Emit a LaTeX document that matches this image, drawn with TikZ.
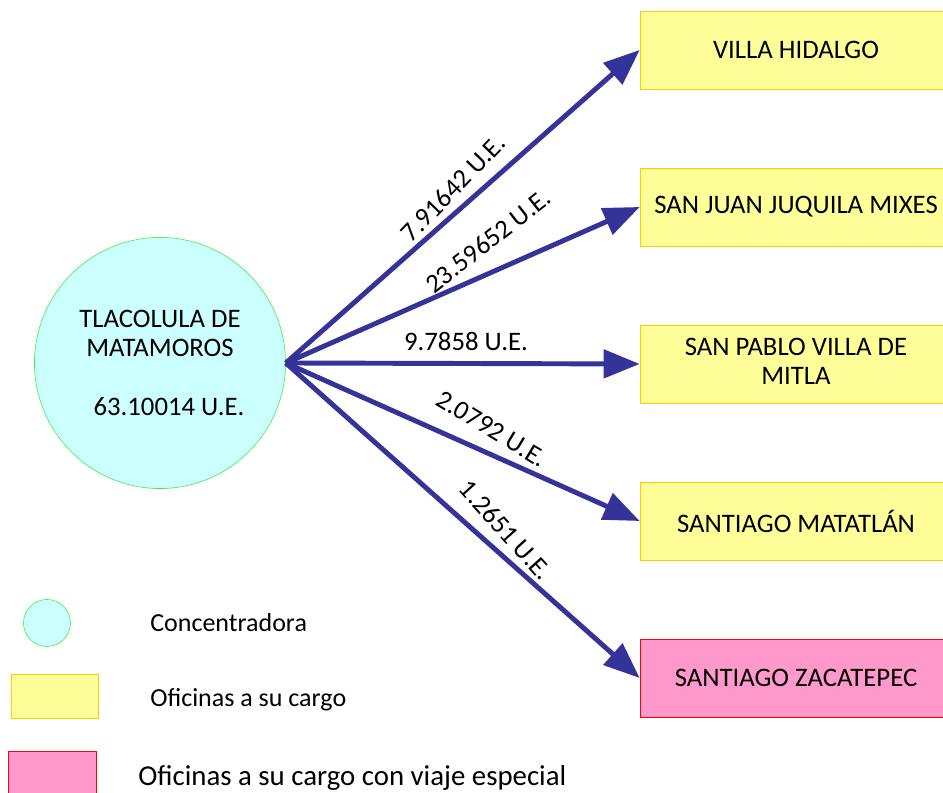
\documentclass[tikz,border=0pt]{standalone}
\usepackage{fontspec}
\setmainfont{Carlito}
\usetikzlibrary{arrows.meta}
\definecolor{hubfill}{HTML}{CCFFFF}
\definecolor{hubline}{HTML}{33EE33}
\definecolor{officefill}{HTML}{FFFF99}
\definecolor{officeline}{HTML}{FFCC00}
\definecolor{specialfill}{HTML}{FF99CC}
\definecolor{specialline}{HTML}{FF0000}
\definecolor{flowblue}{HTML}{333399}
\begin{document}
\begin{tikzpicture}[x=0.025cm, y=0.025cm,
    font=\fontsize{19}{21}\selectfont,
    hub/.style ={circle, draw=hubline, fill=hubfill, thin, inner sep=0pt, minimum size=6.275cm, align=center},
    office/.style ={rectangle, draw=officeline, fill=officefill, thin, minimum width=7.8cm, minimum height=1.95cm},
    special/.style ={office, draw=specialline, fill=specialfill},
    flow/.style ={line width=3.5pt, flowblue, -{Triangle[length=0.9cm, width=0.7cm]}},
    amount/.style ={inner sep=1pt},
    legend/.style ={anchor=west, inner sep=0pt, font=\fontsize{18.5}{21}\selectfont}]
   \useasboundingbox (0,0) rectangle (943,793);
   \clip (0,0) rectangle (943,793);
   \node[hub] (T) at (160,430) {TLACOLULA DE\\MATAMOROS\\[21pt]\hspace{0.45cm}63.10014 U.E.};
   \node[office] (VH) at (796,743) {VILLA HIDALGO};
   \node[office] (SJ) at (796,586) {SAN JUAN JUQUILA MIXES};
   \node[office] (SP) at (796,429) {\begin{tabular}{c}SAN PABLO VILLA DE\\MITLA\end{tabular}};
   \node[office] (SM) at (796,272) {SANTIAGO MATATLÁN};
   \node[special] (SZ) at (796,115) {SANTIAGO ZACATEPEC};
   \draw[flow] (T.east) -- (VH.west);
   \draw[flow] (T.east) -- (SJ.west);
   \draw[flow] (T.east) -- (SP.west);
   \draw[flow] (T.east) -- (SM.west);
   \draw[flow] (T.east) -- (SZ.west);
   \node[amount, rotate=46] (a1) at (453,605) {7.91642 U.E.};
   \node[amount, rotate=38] (a2) at (488,552) {23.59652 U.E.};
   \node[amount] (a3) at (466,452) {9.7858 U.E.};
   \node[amount, rotate=-31] (a4) at (492,364) {2.0792 U.E.};
   \node[amount, rotate=-48] (a5) at (506,263) {1.2651 U.E.};
   % legend
   \node[circle, draw=hubline, fill=hubfill, thin, minimum size=1.175cm] (k1) at (47,170) {};
   \node[legend] (t1) at (150,170) {Concentradora};
   \node[rectangle, draw=officeline, fill=officefill, thin, minimum width=2.175cm, minimum height=1.1cm] (k2) at (54.5,97) {};
   \node[legend] (t2) at (150,93) {Oficinas a su cargo};
   \node[rectangle, draw=specialline, fill=specialfill, thin, minimum width=2.2cm, minimum height=1.3cm] (k3) at (52,16) {};
   \node[legend, font=\fontsize{20.5}{24}\selectfont] (t3) at (138,15) {Oficinas a su cargo con viaje especial};
 \end{tikzpicture}
\end{document}
